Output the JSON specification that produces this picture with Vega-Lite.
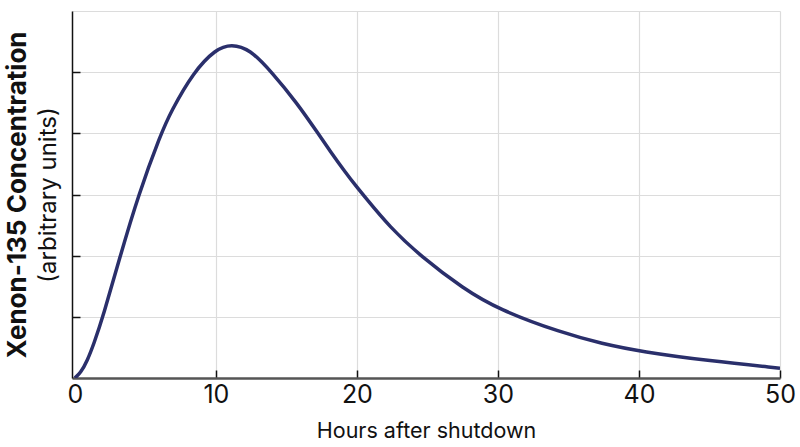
{
  "$schema": "https://vega.github.io/schema/vega-lite/v6.json",
  "autosize": {"type": "none"},
  "padding": {"left": 72, "top": 11, "right": 20, "bottom": 69},
  "width": 708,
  "height": 367,
  "background": "white",
  "config": {
    "view": {"stroke": null},
    "font": "Inter"
  },
  "data": {
    "values": [
      {"t": 0, "v": 0},
      {"t": 0.4, "v": 0.08},
      {"t": 0.9, "v": 0.29},
      {"t": 1.35, "v": 0.56},
      {"t": 2.0, "v": 1.0},
      {"t": 3.2, "v": 1.98},
      {"t": 4.5, "v": 2.99},
      {"t": 6.1, "v": 3.99},
      {"t": 6.8, "v": 4.35},
      {"t": 8.4, "v": 5.0},
      {"t": 10.0, "v": 5.38},
      {"t": 11.1, "v": 5.46},
      {"t": 12.4, "v": 5.38},
      {"t": 13.96, "v": 5.0},
      {"t": 15.74, "v": 4.5},
      {"t": 17.27, "v": 3.99},
      {"t": 18.1, "v": 3.71},
      {"t": 19.16, "v": 3.37},
      {"t": 20.0, "v": 3.12},
      {"t": 20.46, "v": 2.99},
      {"t": 22.35, "v": 2.46},
      {"t": 24.53, "v": 1.99},
      {"t": 27.55, "v": 1.46},
      {"t": 30.04, "v": 1.12},
      {"t": 34.5, "v": 0.74},
      {"t": 37.4, "v": 0.56},
      {"t": 40.2, "v": 0.43},
      {"t": 45.0, "v": 0.28},
      {"t": 50.0, "v": 0.16}
    ]
  },
  "layer": [
    {
      "mark": {"type": "line", "color": "#2a2f6b", "strokeWidth": 3.5, "interpolate": "basis", "clip": true},
      "encoding": {
        "x": {
          "field": "t",
          "type": "quantitative",
          "scale": {"domain": [-0.2, 50], "nice": false, "zero": false},
          "axis": {
            "values": [0, 10, 20, 30, 40, 50],
            "grid": true,
            "gridColor": {"condition": {"test": "datum.value == 0", "value": "transparent"}, "value": "#dcdcdc"},
            "gridWidth": 1.2,
            "tickColor": {"condition": {"test": "datum.value == 0", "value": "transparent"}, "value": "#111111"},
            "tickSize": -8,
            "tickWidth": 1.5,
            "domainColor": "#555555",
            "domainWidth": 2.5,
            "labelFont": "Inter",
            "labelFontSize": 25,
            "labelColor": "#111111",
            "labelPadding": 12,
            "labelFlush": false,
            "title": "Hours after shutdown",
            "titleFont": "Inter",
            "titleFontSize": 21.5,
            "titleFontWeight": "normal",
            "titleColor": "#111111",
            "titlePadding": 13
          }
        },
        "y": {
          "field": "v",
          "type": "quantitative",
          "scale": {"domain": [0, 6], "nice": false},
          "axis": {
            "values": [0, 1, 2, 3, 4, 5, 6],
            "labels": false,
            "grid": true,
            "gridColor": "#dcdcdc",
            "gridWidth": 1.2,
            "tickColor": {"condition": {"test": "datum.value == 0 || datum.value == 6", "value": "transparent"}, "value": "#111111"},
            "tickSize": -8,
            "tickWidth": 1.5,
            "domainColor": "#111111",
            "domainWidth": 1.5,
            "minExtent": 0,
            "title": "Xenon-135 Concentration",
            "titleFont": "Inter",
            "titleFontSize": 26,
            "titleFontWeight": "bold",
            "titleColor": "#111111",
            "titlePadding": 41
          }
        }
      }
    },
    {
      "mark": {"type": "line", "strokeOpacity": 0},
      "encoding": {
        "x": {"field": "t", "type": "quantitative"},
        "y": {
          "field": "v",
          "type": "quantitative",
          "axis": {
            "orient": "left",
            "labels": false,
            "ticks": false,
            "domain": false,
            "grid": false,
            "minExtent": 0,
            "title": "(arbitrary units)",
            "titleFont": "Inter",
            "titleFontSize": 24,
            "titleFontWeight": "normal",
            "titleColor": "#111111",
            "titlePadding": 12
          }
        }
      }
    }
  ],
  "resolve": {"axis": {"y": "independent"}}
}
